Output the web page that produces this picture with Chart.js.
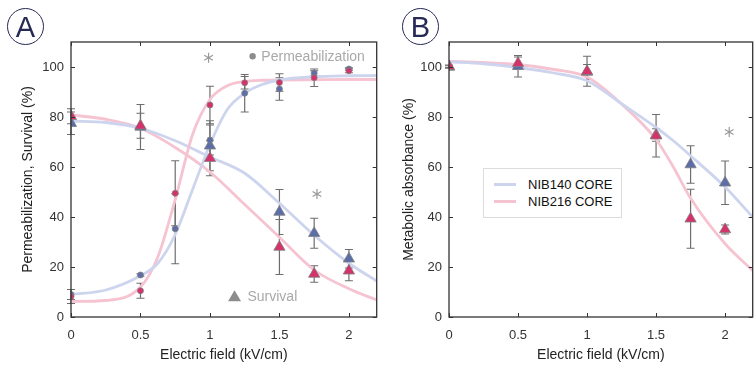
<!DOCTYPE html>
<html>
<head>
<meta charset="utf-8">
<script src="https://cdn.jsdelivr.net/npm/chart.js@4.4.0/dist/chart.umd.min.js"></script>
<style>
    html, body { margin: 0; padding: 0; background: #fff; width: 756px; height: 365px; overflow: hidden; position: relative; font-family: "Liberation Sans", Arial, sans-serif; }
    #wrapA { position: absolute; left: 0; top: 0; }
    #wrapB { position: absolute; left: 380px; top: 0; }
    .badge { position: absolute; width: 35px; height: 35px; border: 1.3px solid #262a55; border-radius: 50%; color: #262a55; font-size: 29px; line-height: 36px; text-align: center; }
    #legendB { position: absolute; left: 483px; top: 168px; width: 137px; height: 48px; border: 1.5px solid #dcdcdc; background: #fff; font-size: 13px; color: #111; }
    #legendB .row { position: absolute; left: 0; height: 16px; line-height: 16px; }
    #legendB .swatch { position: absolute; left: 10px; top: 6px; width: 22px; height: 3px; }
    #legendB .label { position: absolute; left: 44px; top: 0; white-space: nowrap; }
</style>
</head>
<body>
<div id="wrapA"><canvas id="chartA" width="384" height="365"></canvas></div>
<div id="wrapB"><canvas id="chartB" width="380" height="365"></canvas></div>
<div class="badge" style="left:7px; top:8px;">A</div>
<div class="badge" style="left:402px; top:8px;">B</div>
<div id="legendB">
    <div class="row" style="top:8px;"><div class="swatch" style="background:#cdd4ee;"></div><div class="label">NIB140 CORE</div></div>
    <div class="row" style="top:25px;"><div class="swatch" style="background:#f6c3d1;"></div><div class="label">NIB216 CORE</div></div>
</div>
<script>
// Axis ticks
const xTicks = [0, 0.5, 1, 1.5, 2];
const yTicks = [0, 20, 40, 60, 80, 100];

// Panel A - permeabilization (circles)
const permField = [0, 0.5, 0.75, 1, 1.25, 1.5, 1.75, 2];
const perm140 = [9, 16.8, 35.3, 70.8, 89.5, 91.2, 97.5, 99.2];
const perm140Err = [2, 0.5, 14, 6, 7.5, 4.5, 1, 0.5];
const perm216 = [8.2, 10.5, 49.5, 84.8, 93.7, 93.8, 95.7, 98.5];
const perm216Err = [2.8, 3, 13, 7.5, 2.5, 3.5, 3.5, 0.8];

// Panel A - survival (triangles)
const survField = [0, 0.5, 1, 1.5, 1.75, 2];
const surv140 = [77.5, 76, 68.5, 42, 33.5, 23.3];
const surv140Err = [4.5, 9, 10, 9, 6, 3.7];
const surv216 = [80.3, 76.5, 63.5, 28, 17.2, 18.5];
const surv216Err = [3, 5, 7, 11, 3.3, 4];

// Panel A - fitted curves
const permFitX = [0, 0.25, 0.5, 0.625, 0.75, 0.875, 1, 1.125, 1.25, 1.375, 1.5, 1.75, 2, 2.2];
const permFit140 = [9, 10.8, 16.5, 21.5, 33, 51, 69, 83, 89.5, 93, 94.8, 96.1, 96.5, 96.6];
const permFit216 = [6.2, 6.6, 12, 24, 47, 73, 87, 92.5, 94.2, 94.7, 94.8, 94.9, 95, 95];
const survFitX = [0, 0.25, 0.5, 0.75, 1, 1.25, 1.5, 1.75, 2, 2.2];
const survFit140 = [78.4, 77.8, 75.5, 70.5, 64, 57.5, 45.5, 32.7, 21.5, 14.4];
const survFit216 = [80.8, 79.1, 75.5, 67.8, 58, 45, 31.9, 18.8, 11.3, 6.8];

// Panel B - metabolic absorbance
const metField = [0, 0.5, 1, 1.5, 1.75, 2];
const met140 = [100, 100.3, 98, 72.8, 61, 53.7];
const met140Err = [0.5, 4.3, 3, 2.5, 7.5, 8.7];
const met216 = [100.3, 101.5, 98.3, 72.5, 39.3, 35];
const met216Err = [0.5, 2.5, 6, 8.5, 11.8, 1.8];
const metFitX = [0, 0.25, 0.5, 0.75, 1, 1.25, 1.5, 1.625, 1.75, 2, 2.2];
const metFit140 = [102.1, 101.3, 99.8, 97.7, 94.5, 85.3, 75.8, 70.5, 64.5, 52, 40];
const metFit216 = [102.3, 101.8, 101, 99.1, 96, 85.2, 71, 60, 47.5, 29.3, 18.6];

// Significance stars
const starsA = [{ x: 0.99, y: 103.7 }, { x: 1.77, y: 49.2 }];
const starsB = [{ x: 2.03, y: 74 }];

const BLUE = '#5b6ea8';
const PINK = '#d5316a';
const BLUE_FIT = '#cdd4ee';
const PINK_FIT = '#f6c3d1';
const FONT = '"Liberation Sans", Arial, sans-serif';

function pts(xs, ys) {
    return xs.map((x, i) => ({ x: x, y: ys[i] }));
}

function fitSet(xs, ys, color) {
    return {
        type: 'line',
        data: pts(xs, ys),
        borderColor: color,
        borderWidth: 2.8,
        pointRadius: 0,
        fill: false,
        cubicInterpolationMode: 'monotone',
        order: 3
    };
}

// lower order is drawn on top, pink sits over blue in the figure
function markSet(xs, ys, err, color, style, r, order) {
    return {
        type: 'scatter',
        data: pts(xs, ys),
        err: err,
        backgroundColor: color,
        borderColor: '#808080',
        borderWidth: 0.8,
        pointStyle: style,
        pointRadius: r,
        order: order
    };
}

// box with inward ticks on all four sides
const framePlugin = {
    id: 'frame',
    afterDraw(chart) {
        const { ctx, chartArea: a, scales } = chart;
        ctx.save();
        ctx.strokeStyle = '#333';
        ctx.lineWidth = 1.3;
        ctx.strokeRect(a.left, a.top, a.right - a.left, a.bottom - a.top);
        ctx.lineWidth = 1;
        ctx.beginPath();
        xTicks.forEach(v => {
            const px = Math.round(scales.x.getPixelForValue(v)) + 0.5;
            ctx.moveTo(px, a.bottom); ctx.lineTo(px, a.bottom - 4);
            ctx.moveTo(px, a.top); ctx.lineTo(px, a.top + 4);
        });
        yTicks.forEach(v => {
            const py = Math.round(scales.y.getPixelForValue(v)) + 0.5;
            ctx.moveTo(a.left, py); ctx.lineTo(a.left + 4, py);
            ctx.moveTo(a.right, py); ctx.lineTo(a.right - 4, py);
        });
        ctx.stroke();
        ctx.restore();
    }
};

const errorBarPlugin = {
    id: 'errorBars',
    beforeDatasetsDraw(chart) {
        const { ctx, scales } = chart;
        ctx.save();
        ctx.strokeStyle = '#6e6e6e';
        ctx.lineWidth = 1.2;
        chart.data.datasets.forEach(ds => {
            if (!ds.err) return;
            ds.data.forEach((p, i) => {
                const px = scales.x.getPixelForValue(p.x);
                const top = scales.y.getPixelForValue(p.y + ds.err[i]);
                const bot = scales.y.getPixelForValue(p.y - ds.err[i]);
                ctx.beginPath();
                ctx.moveTo(px, top); ctx.lineTo(px, bot);
                ctx.moveTo(px - 4, top); ctx.lineTo(px + 4, top);
                ctx.moveTo(px - 4, bot); ctx.lineTo(px + 4, bot);
                ctx.stroke();
            });
        });
        ctx.restore();
    }
};

const notePlugin = {
    id: 'notes',
    afterDatasetsDraw(chart, args, opts) {
        const { ctx, scales } = chart;
        ctx.save();
        ctx.strokeStyle = '#9a9a9a';
        ctx.lineWidth = 1.2;
        (opts.stars || []).forEach(s => {
            const cx = scales.x.getPixelForValue(s.x);
            const cy = scales.y.getPixelForValue(s.y);
            ctx.beginPath();
            for (let k = 0; k < 3; k++) {
                const ang = Math.PI / 2 + k * Math.PI / 3;
                ctx.moveTo(cx + 5 * Math.cos(ang), cy + 5 * Math.sin(ang));
                ctx.lineTo(cx - 5 * Math.cos(ang), cy - 5 * Math.sin(ang));
            }
            ctx.stroke();
        });
        (opts.labels || []).forEach(l => {
            const mx = scales.x.getPixelForValue(l.mx);
            const cy = scales.y.getPixelForValue(l.y);
            ctx.fillStyle = '#8c8c8c';
            ctx.beginPath();
            if (l.shape === 'circle') {
                ctx.arc(mx, cy, 3.2, 0, Math.PI * 2);
            } else {
                ctx.moveTo(mx, cy - 6); ctx.lineTo(mx + 6.5, cy + 5); ctx.lineTo(mx - 6.5, cy + 5); ctx.closePath();
            }
            ctx.fill();
            ctx.fillStyle = '#a9a9a9';
            ctx.font = '14px ' + FONT;
            ctx.textBaseline = 'middle';
            ctx.textAlign = 'left';
            ctx.fillText(l.text, scales.x.getPixelForValue(l.tx), cy + 1);
        });
        ctx.restore();
    }
};

function axisOptions(yTitle, yTitlePad) {
    return {
        x: {
            type: 'linear', min: 0, max: 2.2,
            afterBuildTicks: s => { s.ticks = xTicks.map(v => ({ value: v })); },
            afterFit: s => { s.height = 48; },
            grid: { display: false, drawTicks: false },
            border: { display: false },
            ticks: { padding: 11, color: '#333', font: { size: 13, family: FONT }, callback: v => String(v) },
            title: { display: true, text: 'Electric field (kV/cm)', color: '#222', font: { size: 14, family: FONT }, padding: { top: 0, bottom: 1 } }
        },
        y: {
            type: 'linear', min: 0, max: 110,
            afterBuildTicks: s => { s.ticks = yTicks.map(v => ({ value: v })); },
            afterFit: s => { s.width = 71; },
            grid: { display: false, drawTicks: false },
            border: { display: false },
            ticks: { padding: 7, color: '#333', font: { size: 13, family: FONT } },
            title: { display: true, text: yTitle, color: '#222', font: { size: 14, family: FONT }, padding: { top: yTitlePad, bottom: 0 } }
        }
    };
}

function initChartA() {
    const ctx = document.getElementById('chartA').getContext('2d');
    new Chart(ctx, {
        type: 'scatter',
        data: {
            datasets: [
                fitSet(permFitX, permFit140, BLUE_FIT),
                fitSet(permFitX, permFit216, PINK_FIT),
                fitSet(survFitX, survFit140, BLUE_FIT),
                fitSet(survFitX, survFit216, PINK_FIT),
                markSet(permField, perm140, perm140Err, BLUE, 'circle', 3, 2),
                markSet(permField, perm216, perm216Err, PINK, 'circle', 3, 1),
                markSet(survField, surv140, surv140Err, BLUE, 'triangle', 6.5, 2),
                markSet(survField, surv216, surv216Err, PINK, 'triangle', 6.5, 1)
            ]
        },
        options: {
            responsive: false,
            animation: false,
            layout: { padding: { top: 42, right: 3, left: 0, bottom: 0 } },
            scales: axisOptions('Permeabilization, Survival (%)', 20),
            plugins: {
                legend: { display: false },
                tooltip: { enabled: false },
                notes: {
                    stars: starsA,
                    labels: [
                        { text: 'Permeabilization', shape: 'circle', mx: 1.307, tx: 1.37, y: 104.3 },
                        { text: 'Survival', shape: 'triangle', mx: 1.177, tx: 1.27, y: 8.3 }
                    ]
                }
            }
        },
        plugins: [errorBarPlugin, notePlugin, framePlugin]
    });
}

function initChartB() {
    const ctx = document.getElementById('chartB').getContext('2d');
    new Chart(ctx, {
        type: 'scatter',
        data: {
            datasets: [
                fitSet(metFitX, metFit140, BLUE_FIT),
                fitSet(metFitX, metFit216, PINK_FIT),
                markSet(metField, met140, met140Err, BLUE, 'triangle', 6.5, 2),
                markSet(metField, met216, met216Err, PINK, 'triangle', 6.5, 1)
            ]
        },
        options: {
            responsive: false,
            animation: false,
            layout: { padding: { top: 42, right: 0, left: -2, bottom: 0 } },
            scales: axisOptions('Metabolic absorbance (%)', 23),
            plugins: {
                legend: { display: false },
                tooltip: { enabled: false },
                notes: { stars: starsB }
            }
        },
        plugins: [errorBarPlugin, notePlugin, framePlugin]
    });
}

initChartA();
initChartB();
</script>
</body>
</html>
